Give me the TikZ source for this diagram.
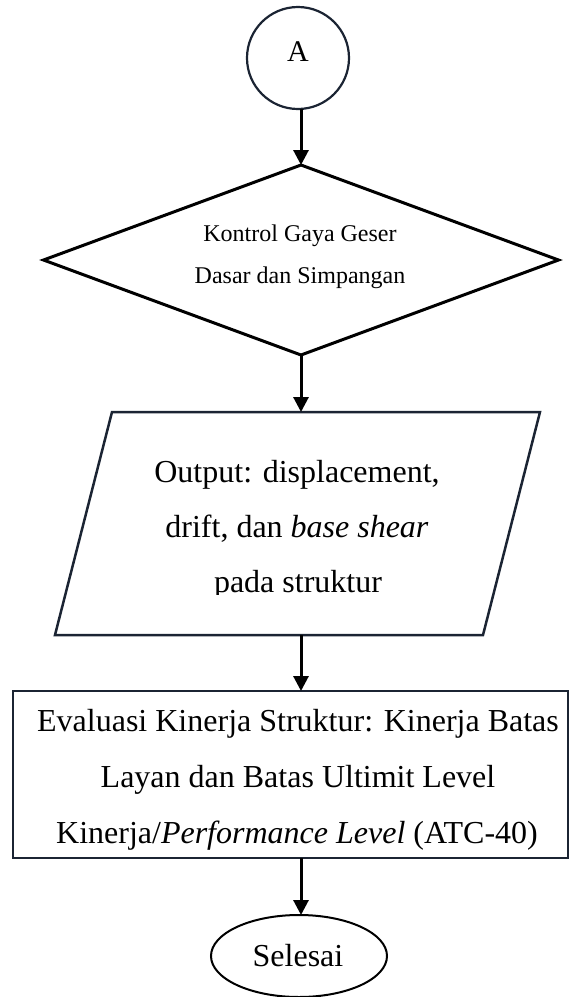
\documentclass[tikz,border=0pt]{standalone}
\usepackage{fontspec}
\setmainfont{Liberation Serif}
\usetikzlibrary{shapes.geometric,arrows.meta,calc}
\definecolor{navyc}{HTML}{1B2433}
\tikzset{
  arr/.style={line width=3pt, -{Triangle[width=15pt,length=15pt]}},
  big/.style={anchor=base, inner sep=0pt, font=\fontsize{32}{38}\selectfont},
  small/.style={anchor=base, inner sep=0pt, font=\fontsize{24}{29}\selectfont},
  shp/.style={inner sep=0pt, outer sep=0pt},
}
\begin{document}
\begin{tikzpicture}[x=1pt,y=-1pt]
\useasboundingbox (0,0) rectangle (570,997);
% start connector
\node[shp, circle, draw=navyc, line width=2.2pt, minimum size=102pt] (A) at (298,58) {};
\node[big, font=\fontsize{30}{36}\selectfont] (At) at (298,61) {A};
% decision
\node[shp, diamond, draw, line width=3pt, minimum width=515pt, minimum height=190pt] (D) at (301,260) {};
\node[small] (d1) at (300,241) {Kontrol Gaya Geser};
\node[small] (d2) at (300,283) {Dasar dan Simpangan};
% output parallelogram
\node[shp, minimum width=428pt, minimum height=223pt] (P) at (297.5,523.5) {};
\draw[navyc, line width=2.5pt, line join=miter]
  ($(P.north west)+(28.5,0)$) -- ($(P.north east)+(28.5,0)$) --
  ($(P.south east)+(-28.5,0)$) -- ($(P.south west)+(-28.5,0)$) -- cycle;
\node[big] (p1) at (297,482) {Output: displacement,};
\node[big] (p2) at (297,537) {drift, dan \textit{base shear}};
\begin{scope}
  \clip (0,0) rectangle (570,594);
  \node[big] (p3) at (298,592) {pada struktur};
\end{scope}
% evaluation box
\node[shp, draw=navyc, line width=2.5pt, minimum width=555pt, minimum height=167pt] (R) at (290.5,774.5) {};
\node[big] (r1) at (298,731) {Evaluasi Kinerja Struktur: Kinerja Batas};
\node[big] (r2) at (298,787) {Layan dan Batas Ultimit Level};
\node[big] (r3) at (297,843) {Kinerja/\textit{Performance Level} (ATC-40)};
% end
\node[shp, ellipse, draw, line width=2pt, minimum width=176pt, minimum height=82pt] (E) at (299,956) {};
\node[big] (Et) at (298,966) {Selesai};
% connectors
\draw[arr] (A.south -| D.north) -- (D.north);
\draw[arr] (D.south) -- (P.north -| D.south);
\draw[arr] (P.south -| D.south) -- (R.north -| D.south);
\draw[arr] (R.south -| D.south) -- (E.north -| D.south);
\end{tikzpicture}
\end{document}
